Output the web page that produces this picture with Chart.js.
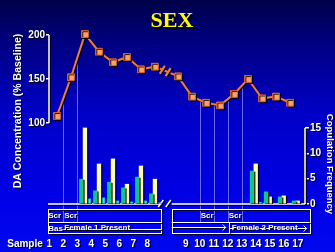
<!DOCTYPE html>
<html lang="en">
<head>
<meta charset="UTF-8">
<title>SEX</title>
<script src="https://cdn.jsdelivr.net/npm/chart.js"></script>
<style>
    html, body { margin: 0; padding: 0; background: #0000c0; }
    #wrap { width: 335px; height: 252px; }
</style>
</head>
<body>
<div id="wrap"><canvas id="grafico"></canvas></div>
<script>
// sample numbers on the bottom axis
const samples = [1, 2, 3, 4, 5, 6, 7, 8, 9, 10, 11, 12, 13, 14, 15, 16, 17];
// DA concentration (% baseline), one value per sample
const daConc = [108, 152, 201, 181, 169, 175, 161, 164, 153, 130, 123, 120, 133, 150, 128, 130, 123];
// samples that have copulation bars, and the three bar series
const barSamples = [3, 4, 5, 6, 7, 8, 14, 15, 16, 17];
const freqGreen = [4.9, 2.6, 4.3, 3.2, 5.3, 2.0, 6.5, 2.4, 1.4, 0.6];
const freqYellow = [15.0, 7.9, 8.9, 3.9, 7.5, 4.9, 7.9, 1.4, 1.6, 0.6];
const freqCyan = [1.0, 1.2, 0.6, 0.4, 0.6, 0.2, 0.3, 0, 0, 0];
// axis ticks
const leftTicks = [100, 150, 200];
const rightTicks = [0, 5, 10, 15];

// the x axis is broken between sample 8 and 9
function linePos(s) { return s <= 8 ? s : s + 0.65; }
function barPos(s) { return s <= 8 ? s : s + 1.2; }
function labelPos(s) { return s <= 8 ? s - 0.55 : s + 1.2; }

const WHITE = '#ffffff';
const ORANGE = '#f07c40';
const FONT = "'Liberation Sans', Arial, sans-serif";
Chart.defaults.font.family = FONT;

function bars(values, color) {
    return {
        data: barSamples.map((s, i) => ({ x: barPos(s), y: values[i] })),
        yAxisID: 'yR',
        backgroundColor: color,
        borderWidth: 0,
        barThickness: 3.7,
        order: 1
    };
}

// decorations: background, axis lines, boxes, breaks, titles
const decor = {
    id: 'decor',
    beforeDraw(chart) {
        const { ctx, width, height } = chart;
        const g = ctx.createLinearGradient(0, 0, 0, height);
        g.addColorStop(0, '#000048');
        g.addColorStop(0.15, '#00007c');
        g.addColorStop(0.45, '#0000c8');
        g.addColorStop(0.8, '#0000e8');
        g.addColorStop(1, '#0008f0');
        ctx.fillStyle = g;
        ctx.fillRect(0, 0, width, height);
        // black drop shadow on everything drawn after this
        ctx.save();
        ctx.shadowColor = 'rgba(0,0,0,0.9)';
        ctx.shadowOffsetX = 1.2;
        ctx.shadowOffsetY = 1;
        ctx.shadowBlur = 0;
    },
    beforeDatasetsDraw(chart) {
        const { ctx, chartArea, scales } = chart;
        const px = v => scales.x.getPixelForValue(v);
        const bottom = chartArea.bottom;
        const top = bottom + 5, mid = bottom + 18, low = bottom + 29;
        const pts = chart.getDatasetMeta(0).data;

        function curveY(x) {
            for (let i = 1; i < pts.length; i++) {
                if (pts[i].x >= x) {
                    const a = pts[i - 1], b = pts[i];
                    return a.y + (b.y - a.y) * (x - a.x) / (b.x - a.x);
                }
            }
            return pts[pts.length - 1].y;
        }

        // thin guide lines from the curve down to the boxes
        ctx.save();
        ctx.shadowColor = 'transparent';
        ctx.strokeStyle = 'rgba(150,150,255,0.7)';
        ctx.lineWidth = 1;
        [2, 3, 10, 11, 12, 13].forEach(s => {
            const x = Math.round(px(labelPos(s))) + 0.5;
            ctx.beginPath();
            ctx.moveTo(x, curveY(x));
            ctx.lineTo(x, mid);
            ctx.stroke();
        });
        ctx.restore();

        ctx.strokeStyle = WHITE;
        ctx.fillStyle = WHITE;

        // axis lines
        ctx.lineWidth = 1.5;
        ctx.beginPath();
        ctx.moveTo(chartArea.left, scales.yL.getPixelForValue(200));
        ctx.lineTo(chartArea.left, scales.yL.getPixelForValue(100));
        ctx.moveTo(chartArea.right, scales.yR.getPixelForValue(15));
        ctx.lineTo(chartArea.right, scales.yR.getPixelForValue(0));
        ctx.stroke();

        // baseline with the break
        const xL = px(labelPos(8) + 1), xR = px(labelPos(9) - 1);
        ctx.beginPath();
        ctx.moveTo(chartArea.left - 1, bottom);
        ctx.lineTo(xL, bottom);
        ctx.moveTo(xR, bottom);
        ctx.lineTo(chartArea.right, bottom);
        ctx.moveTo(xL - 3, bottom + 3);
        ctx.lineTo(xL + 2, bottom - 4);
        ctx.moveTo(xR - 6, bottom + 3);
        ctx.lineTo(xR - 1, bottom - 4);
        ctx.stroke();

        // phase boxes
        ctx.lineWidth = 1;
        const b1 = px(labelPos(1) - 0.1), b2 = xL, b3 = xR, b4 = px(labelPos(17) + 0.85);
        ctx.strokeRect(Math.round(b1) + 0.5, top + 0.5, Math.round(b2 - b1), low - top);
        ctx.strokeRect(Math.round(b3) + 0.5, top + 0.5, Math.round(b4 - b3), low - top);
        ctx.beginPath();
        ctx.moveTo(b1, mid + 0.5); ctx.lineTo(b2, mid + 0.5);
        ctx.moveTo(b3, mid + 0.5); ctx.lineTo(b4, mid + 0.5);
        // female 1 line
        ctx.moveTo(px(labelPos(2)), low - 3.5); ctx.lineTo(b2, low - 3.5);
        // arrow into female 2
        const d12 = px(labelPos(12));
        ctx.moveTo(b3, low - 5.5); ctx.lineTo(d12 - 2, low - 5.5);
        ctx.moveTo(d12 - 5, low - 8.5); ctx.lineTo(d12 - 2, low - 5.5); ctx.lineTo(d12 - 5, low - 2.5);
        ctx.moveTo(Math.round(d12) + 1.5, mid); ctx.lineTo(Math.round(d12) + 1.5, low);
        // female 2 arrow
        ctx.moveTo(d12 + 2, low - 4.5); ctx.lineTo(b4 - 3, low - 4.5);
        ctx.moveTo(b4 - 6, low - 7.5); ctx.lineTo(b4 - 3, low - 4.5); ctx.lineTo(b4 - 6, low - 1.5);
        ctx.stroke();

        ctx.font = 'bold 8px ' + FONT;
        ctx.textBaseline = 'middle';
        ctx.textAlign = 'left';
        [[1, 'Scr'], [2, 'Scr'], [10, 'Scr'], [12, 'Scr']].forEach(([s, t]) => {
            ctx.fillText(t, px(labelPos(s)) + (s === 1 ? -1 : 1), top + 7);
        });
        ctx.fillText('Bas', px(labelPos(1)) - 1, low - 4);
        ctx.fillText('Female 1 Present', px(labelPos(2)) + 1, low - 5);
        ctx.fillText('Female 2 Present', d12 + 4, low - 5);
    },
    afterDatasetsDraw(chart) {
        const { ctx } = chart;
        const pts = chart.getDatasetMeta(0).data;
        const a = pts[7], b = pts[8];
        ctx.strokeStyle = ORANGE;
        ctx.lineWidth = 2.2;
        [0.32, 0.57].forEach(t => {
            const cx = a.x + (b.x - a.x) * t, cy = a.y + (b.y - a.y) * t;
            ctx.beginPath();
            ctx.moveTo(cx - 2.5, cy + 4);
            ctx.lineTo(cx + 2.5, cy - 4);
            ctx.stroke();
        });
    },
    afterDraw(chart) {
        const { ctx } = chart;
        ctx.textAlign = 'center';
        ctx.textBaseline = 'middle';

        ctx.fillStyle = WHITE;
        ctx.font = 'bold 10px ' + FONT;
        ctx.fillText('Sample', 25, 244);

        ctx.save();
        ctx.translate(18, 111);
        ctx.rotate(-Math.PI / 2);
        ctx.font = 'bold 10.5px ' + FONT;
        ctx.fillText('DA Concentration (% Baseline)', 0, 0);
        ctx.restore();

        ctx.save();
        ctx.translate(330, 164);
        ctx.rotate(Math.PI / 2);
        ctx.font = 'bold 9.5px ' + FONT;
        ctx.fillText('Copulation Frequency', 0, 0);
        ctx.restore();

        ctx.shadowOffsetX = 2;
        ctx.shadowOffsetY = 2;
        ctx.fillStyle = '#ffff00';
        ctx.font = "bold 22px 'Liberation Serif', 'Times New Roman', serif";
        ctx.fillText('SEX', 172, 21);

        ctx.restore();
    }
};

const tickFont = { size: 10, weight: 'bold' };

new Chart(document.getElementById('grafico'), {
    type: 'bar',
    data: {
        datasets: [
            {
                type: 'line',
                data: samples.map((s, i) => ({ x: linePos(s), y: daConc[i] })),
                yAxisID: 'yL',
                borderColor: ORANGE,
                borderWidth: 2,
                tension: 0,
                pointStyle: 'rect',
                pointRadius: 4.8,
                pointBackgroundColor: '#ffa06a',
                pointBorderColor: '#d8622a',
                pointBorderWidth: 1,
                clip: false,
                order: 0
            },
            bars(freqGreen, '#12c48c'),
            bars(freqYellow, '#ffffa8'),
            bars(freqCyan, '#19eef0')
        ]
    },
    options: {
        responsive: true,
        maintainAspectRatio: false,
        animation: false,
        layout: { padding: { top: 20, left: 0, right: 0, bottom: 0 } },
        plugins: { legend: { display: false }, tooltip: { enabled: false } },
        scales: {
            x: {
                type: 'linear',
                min: 0.43,
                max: 18.72,
                offset: false,
                border: { display: false },
                grid: { display: true, drawOnChartArea: false, drawTicks: true, tickLength: 34, color: 'transparent' },
                afterBuildTicks: ax => { ax.ticks = samples.map(s => ({ value: labelPos(s) })); },
                afterFit: ax => { ax.height = 48; },
                ticks: {
                    autoSkip: false, maxRotation: 0, padding: 0,
                    color: WHITE, font: tickFont,
                    callback: (v, i) => String(samples[i])
                }
            },
            yL: {
                position: 'left',
                min: 8,
                max: 217,
                border: { display: false },
                grid: { drawOnChartArea: false, tickLength: 3, color: WHITE, lineWidth: 1.5 },
                afterBuildTicks: ax => { ax.ticks = leftTicks.map(v => ({ value: v })); },
                afterFit: ax => { ax.width = 49; },
                ticks: { padding: 1, color: WHITE, font: tickFont }
            },
            yR: {
                position: 'right',
                min: 0,
                max: 36.3,
                border: { display: false },
                grid: { drawOnChartArea: false, tickLength: 4, color: WHITE, lineWidth: 1.5 },
                afterBuildTicks: ax => { ax.ticks = rightTicks.map(v => ({ value: v })); },
                afterFit: ax => { ax.width = 30; },
                ticks: { padding: 1, color: WHITE, font: tickFont }
            }
        }
    },
    plugins: [decor]
});
</script>
</body>
</html>
